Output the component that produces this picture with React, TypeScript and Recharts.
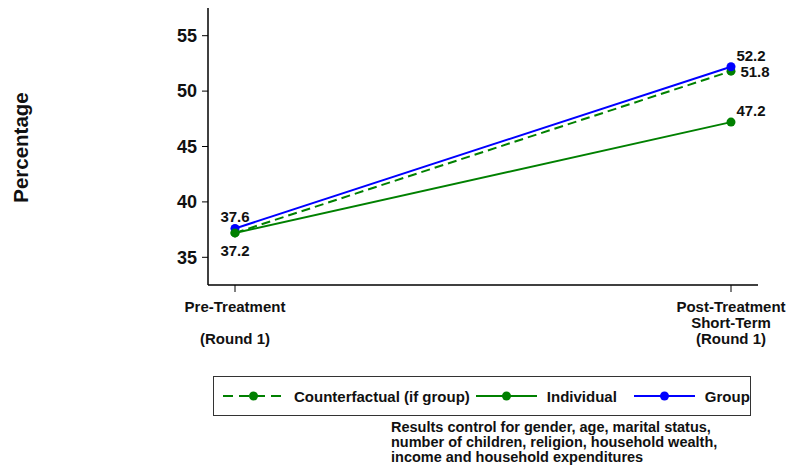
import React from 'react'
import { LineChart, Line, XAxis, YAxis, LabelList } from 'recharts'

const periods = ['Pre-Treatment', 'Post-Treatment'];
const periodLines = [
  ['Pre-Treatment', '', '(Round 1)'],
  ['Post-Treatment', 'Short-Term', '(Round 1)'],
];
const counterfactual = [37.2, 51.8];
const individual = [37.2, 47.2];
const group = [37.6, 52.2];
const yTicks = [35, 40, 45, 50, 55];
const noteLines = [
  'Results control for gender, age, marital status,',
  'number of children, religion, household wealth,',
  'income and household expenditures',
];

const GREEN = '#008000';
const BLUE = '#0000ff';
const FONT = '"Liberation Sans", Arial, Helvetica, sans-serif';

const data = periods.map((p, i) => ({
  period: p,
  counterfactual: counterfactual[i],
  individual: individual[i],
  group: group[i],
}));

// legend order
const legendItems = [
  { key: 'counterfactual', name: 'Counterfactual (if group)', color: GREEN, dash: '9 5' },
  { key: 'individual', name: 'Individual', color: GREEN, dash: undefined },
  { key: 'group', name: 'Group', color: BLUE, dash: undefined },
];

// where each value label sits relative to its point (pre, post)
const labelOffsets: Record<string, Array<{ dx: number; dy: number } | null>> = {
  counterfactual: [null, { dx: 24, dy: 0 }],
  individual: [{ dx: 0, dy: 18 }, { dx: 20, dy: -12 }],
  group: [{ dx: 0, dy: -12 }, { dx: 20, dy: -11 }],
};

const makeLabel = (key: string) => (props: any) => {
  const { x, y, value, index } = props;
  const off = labelOffsets[key][index];
  if (!off) return null;
  return (
    <text
      x={x + off.dx}
      y={y + off.dy}
      textAnchor="middle"
      dominantBaseline="central"
      fontFamily={FONT}
      fontWeight="bold"
      fontSize={15}
      fill="#111"
    >
      {value}
    </text>
  );
};

const PeriodTick = (props: any) => {
  const { x, y, payload } = props;
  const lines = periodLines[payload.index] || [payload.value];
  return (
    <g>
      {lines.map((l, i) => (
        <text
          key={i}
          x={x}
          y={y + 18 + i * 16}
          textAnchor="middle"
          fontFamily={FONT}
          fontWeight="bold"
          fontSize={15}
          fill="#111"
        >
          {l}
        </text>
      ))}
    </g>
  );
};

const YLabel = (props: any) => {
  const { viewBox } = props;
  const cx = viewBox.x + 20;
  const cy = viewBox.y + viewBox.height / 2 + 1;
  return (
    <text
      x={cx}
      y={cy}
      transform={`rotate(-90, ${cx}, ${cy})`}
      textAnchor="middle"
      dominantBaseline="central"
      fontFamily={FONT}
      fontWeight="bold"
      fontSize={20.5}
      fill="#111"
    >
      Percentage
    </text>
  );
};

const LegendIcon = ({ color, dash }: { color: string; dash?: string }) => (
  <svg width={61} height={14} style={{ display: 'block' }}>
    <line x1={0} y1={7} x2={61} y2={7} stroke={color} strokeWidth={2} strokeDasharray={dash ? '10 6' : undefined} />
    <circle cx={30.5} cy={7} r={4.5} fill={color} />
  </svg>
);

export default function App() {
  return (
    <div style={{ position: 'absolute', left: 0, top: 0, width: 788, height: 471, background: '#fff' }}>
      <LineChart
        width={788}
        height={471}
        data={data}
        margin={{ top: 8, right: 30, bottom: 116, left: 0 }}
      >
        <XAxis
          dataKey="period"
          padding={{ left: 27, right: 27 }}
          height={70}
          tickSize={7}
          axisLine={{ stroke: '#000', strokeWidth: 1.5 }}
          tickLine={{ stroke: '#000' }}
          tick={<PeriodTick />}
          interval={0}
        />
        <YAxis
          width={208}
          domain={[32.5, 57.5]}
          ticks={yTicks}
          tickSize={6}
          tickMargin={5}
          axisLine={{ stroke: '#000', strokeWidth: 1.5 }}
          tickLine={{ stroke: '#000' }}
          tick={{ fontFamily: FONT, fontWeight: 'bold', fontSize: 18, fill: '#111' }}
          label={<YLabel />}
        />
        <Line
          dataKey="counterfactual"
          stroke={GREEN}
          strokeWidth={2}
          strokeDasharray="9 5"
          dot={{ r: 4.5, fill: GREEN, stroke: GREEN, strokeWidth: 0 }}
          isAnimationActive={false}
        >
          <LabelList dataKey="counterfactual" content={makeLabel('counterfactual')} />
        </Line>
        <Line
          dataKey="group"
          stroke={BLUE}
          strokeWidth={2}
          dot={{ r: 4.5, fill: BLUE, stroke: BLUE, strokeWidth: 0 }}
          isAnimationActive={false}
        >
          <LabelList dataKey="group" content={makeLabel('group')} />
        </Line>
        <Line
          dataKey="individual"
          stroke={GREEN}
          strokeWidth={2}
          dot={{ r: 4.5, fill: GREEN, stroke: GREEN, strokeWidth: 0 }}
          isAnimationActive={false}
        >
          <LabelList dataKey="individual" content={makeLabel('individual')} />
        </Line>
      </LineChart>

      <div
        style={{
          position: 'absolute',
          left: 213,
          top: 376,
          width: 538,
          height: 40,
          boxSizing: 'border-box',
          border: '1px solid #333',
          display: 'flex',
          alignItems: 'center',
          paddingLeft: 9,
          fontFamily: FONT,
          fontWeight: 'bold',
          fontSize: 15,
          color: '#111',
        }}
      >
        {legendItems.map((it, i) => (
          <div key={it.key} style={{ display: 'flex', alignItems: 'center', marginLeft: i === 0 ? 0 : i === 1 ? 6 : 17 }}>
            <LegendIcon color={it.color} dash={it.dash} />
            <span style={{ marginLeft: 10, whiteSpace: 'nowrap' }}>{it.name}</span>
          </div>
        ))}
      </div>

      <div
        style={{
          position: 'absolute',
          left: 391,
          top: 420,
          fontFamily: FONT,
          fontWeight: 'bold',
          fontSize: 14.5,
          lineHeight: '15px',
          color: '#111',
        }}
      >
        {noteLines.map((l, i) => (
          <div key={i} style={{ whiteSpace: 'nowrap' }}>{l}</div>
        ))}
      </div>
    </div>
  );
}
